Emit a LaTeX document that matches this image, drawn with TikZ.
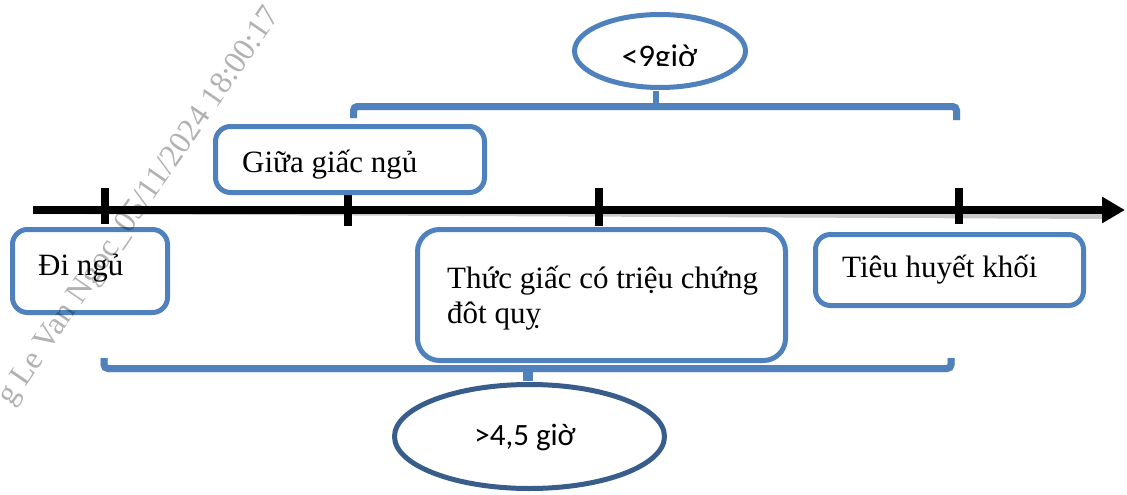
\documentclass[tikz,border=0pt]{standalone}
\usepackage{fontspec}
\setmainfont{Liberation Serif}
\newfontfamily\sansf{Carlito}
\usetikzlibrary{arrows.meta,shapes.geometric}
\definecolor{boxblue}{RGB}{79,129,189}
\definecolor{darkblue}{RGB}{56,93,138}
\definecolor{shadowgray}{RGB}{200,200,200}
\tikzset{
  stepbox/.style={draw=boxblue, line width=5pt, fill=white, rounded corners=15pt, rectangle, inner sep=0pt},
  serift/.style={inner sep=0pt, font=\fontsize{31}{36}\selectfont},
  sanst/.style={inner sep=0pt, font=\sansf\fontsize{31}{36}\selectfont},
  oval/.style={ellipse, draw=#1, line width=5pt, fill=white, inner sep=0pt},
  axisline/.style={line width=8pt, black},
  tickline/.style={line width=8pt, black},
  bracket/.style={line width=7pt, boxblue, rounded corners=4pt},
  shade/.style={line width=7pt, shadowgray},
}
\begin{document}
\begin{tikzpicture}[x=1pt,y=-1pt]
\useasboundingbox (0,0) rectangle (1127,495);
% coordinates
\coordinate (axL) at (33,210);
\coordinate (axR) at (1125,210);
\coordinate (k1a) at (104.5,188); \coordinate (k1b) at (104.5,224);
\coordinate (k2a) at (348,188);   \coordinate (k2b) at (348,226);
\coordinate (k3a) at (599,188);   \coordinate (k3b) at (599,226);
\coordinate (k4a) at (958.5,188); \coordinate (k4b) at (958.5,224);
\coordinate (tb1) at (353.5,118); \coordinate (tb2) at (353.5,106.5);
\coordinate (tb3) at (956.5,106.5); \coordinate (tb4) at (956.5,120);
\coordinate (tbm) at (656,106.5);
\coordinate (bb1) at (104,358); \coordinate (bb2) at (104,368.5);
\coordinate (bb3) at (951,368.5); \coordinate (bb4) at (951,358);
\coordinate (bbm) at (528,368.5);
% shadows
\begin{scope}[shift={(2.5,5)}]
  \draw[shade, line width=8pt] (axL) -- (1102,210);
  \draw[shade, rounded corners=4pt] (tb1) -- (tb2) -- (tb3) -- (tb4);
  \draw[shade, rounded corners=4pt] (bb1) -- (bb2) -- (bb3) -- (bb4);
\end{scope}
% axis and ticks
\draw[axisline, -{Triangle[length=23pt,width=25pt]}] (axL) -- (axR);
\draw[tickline] (k1a) -- (k1b);
\draw[tickline] (k2a) -- (k2b);
\draw[tickline] (k3a) -- (k3b);
\draw[tickline] (k4a) -- (k4b);
% brackets
\draw[bracket] (tb1) -- (tb2) -- (tb3) -- (tb4);
\draw[bracket] (bb1) -- (bb2) -- (bb3) -- (bb4);
% boxes
\node[stepbox, minimum width=155pt, minimum height=83pt] (b1) at (90,271) {};
\node[stepbox, minimum width=269pt, minimum height=66pt] (b2) at (350,159.5) {};
\node[stepbox, minimum width=368pt, minimum height=131pt, rounded corners=22pt] (b3) at (601.5,295) {};
\node[stepbox, minimum width=268pt, minimum height=71pt] (b4) at (949.5,270) {};
% ovals
\node[oval=boxblue, minimum width=171pt, minimum height=73pt] (e1) at (660,51) {};
\node[oval=darkblue, minimum width=270pt, minimum height=104pt] (e2) at (529.5,436.5) {};
\draw[boxblue, line width=6pt] (tbm) -- ([yshift=-1pt]tbm |- e1.south);
\draw[boxblue, line width=10pt] (bbm) -- ([yshift=1pt]bbm |- e2.north);
% texts
\node[serift, anchor=base west] (t1) at (38,275) {Đi ngủ};
\node[serift, anchor=base west] (t2) at (242,172) {Giữa giấc ngủ};
\node[serift, anchor=base west] (t3) at (447,288) {Thức giấc có triệu chứng};
\node[serift, anchor=base west] (t3b) at (447,323) {đôt quỵ};
\node[serift, anchor=base west] (t4) at (842,277) {Tiêu huyết khối};
\begin{scope}
  \clip (560,20) rectangle (760,65.5);
  \node[sanst, anchor=base, font=\sansf\fontsize{33}{38}\selectfont] (t5) at (659.5,67) {<9giờ};
\end{scope}
\node[sanst, anchor=base] (t6) at (525,445) {>4,5 giờ};
% watermark
\node[inner sep=0pt, anchor=north east, rotate=55.5, text=black, opacity=0.3, font=\fontsize{32}{36}\selectfont] (wm) at (263,3) {g Le Van Ngọc\_05/11/2024 18:00:17};
\end{tikzpicture}
\end{document}
